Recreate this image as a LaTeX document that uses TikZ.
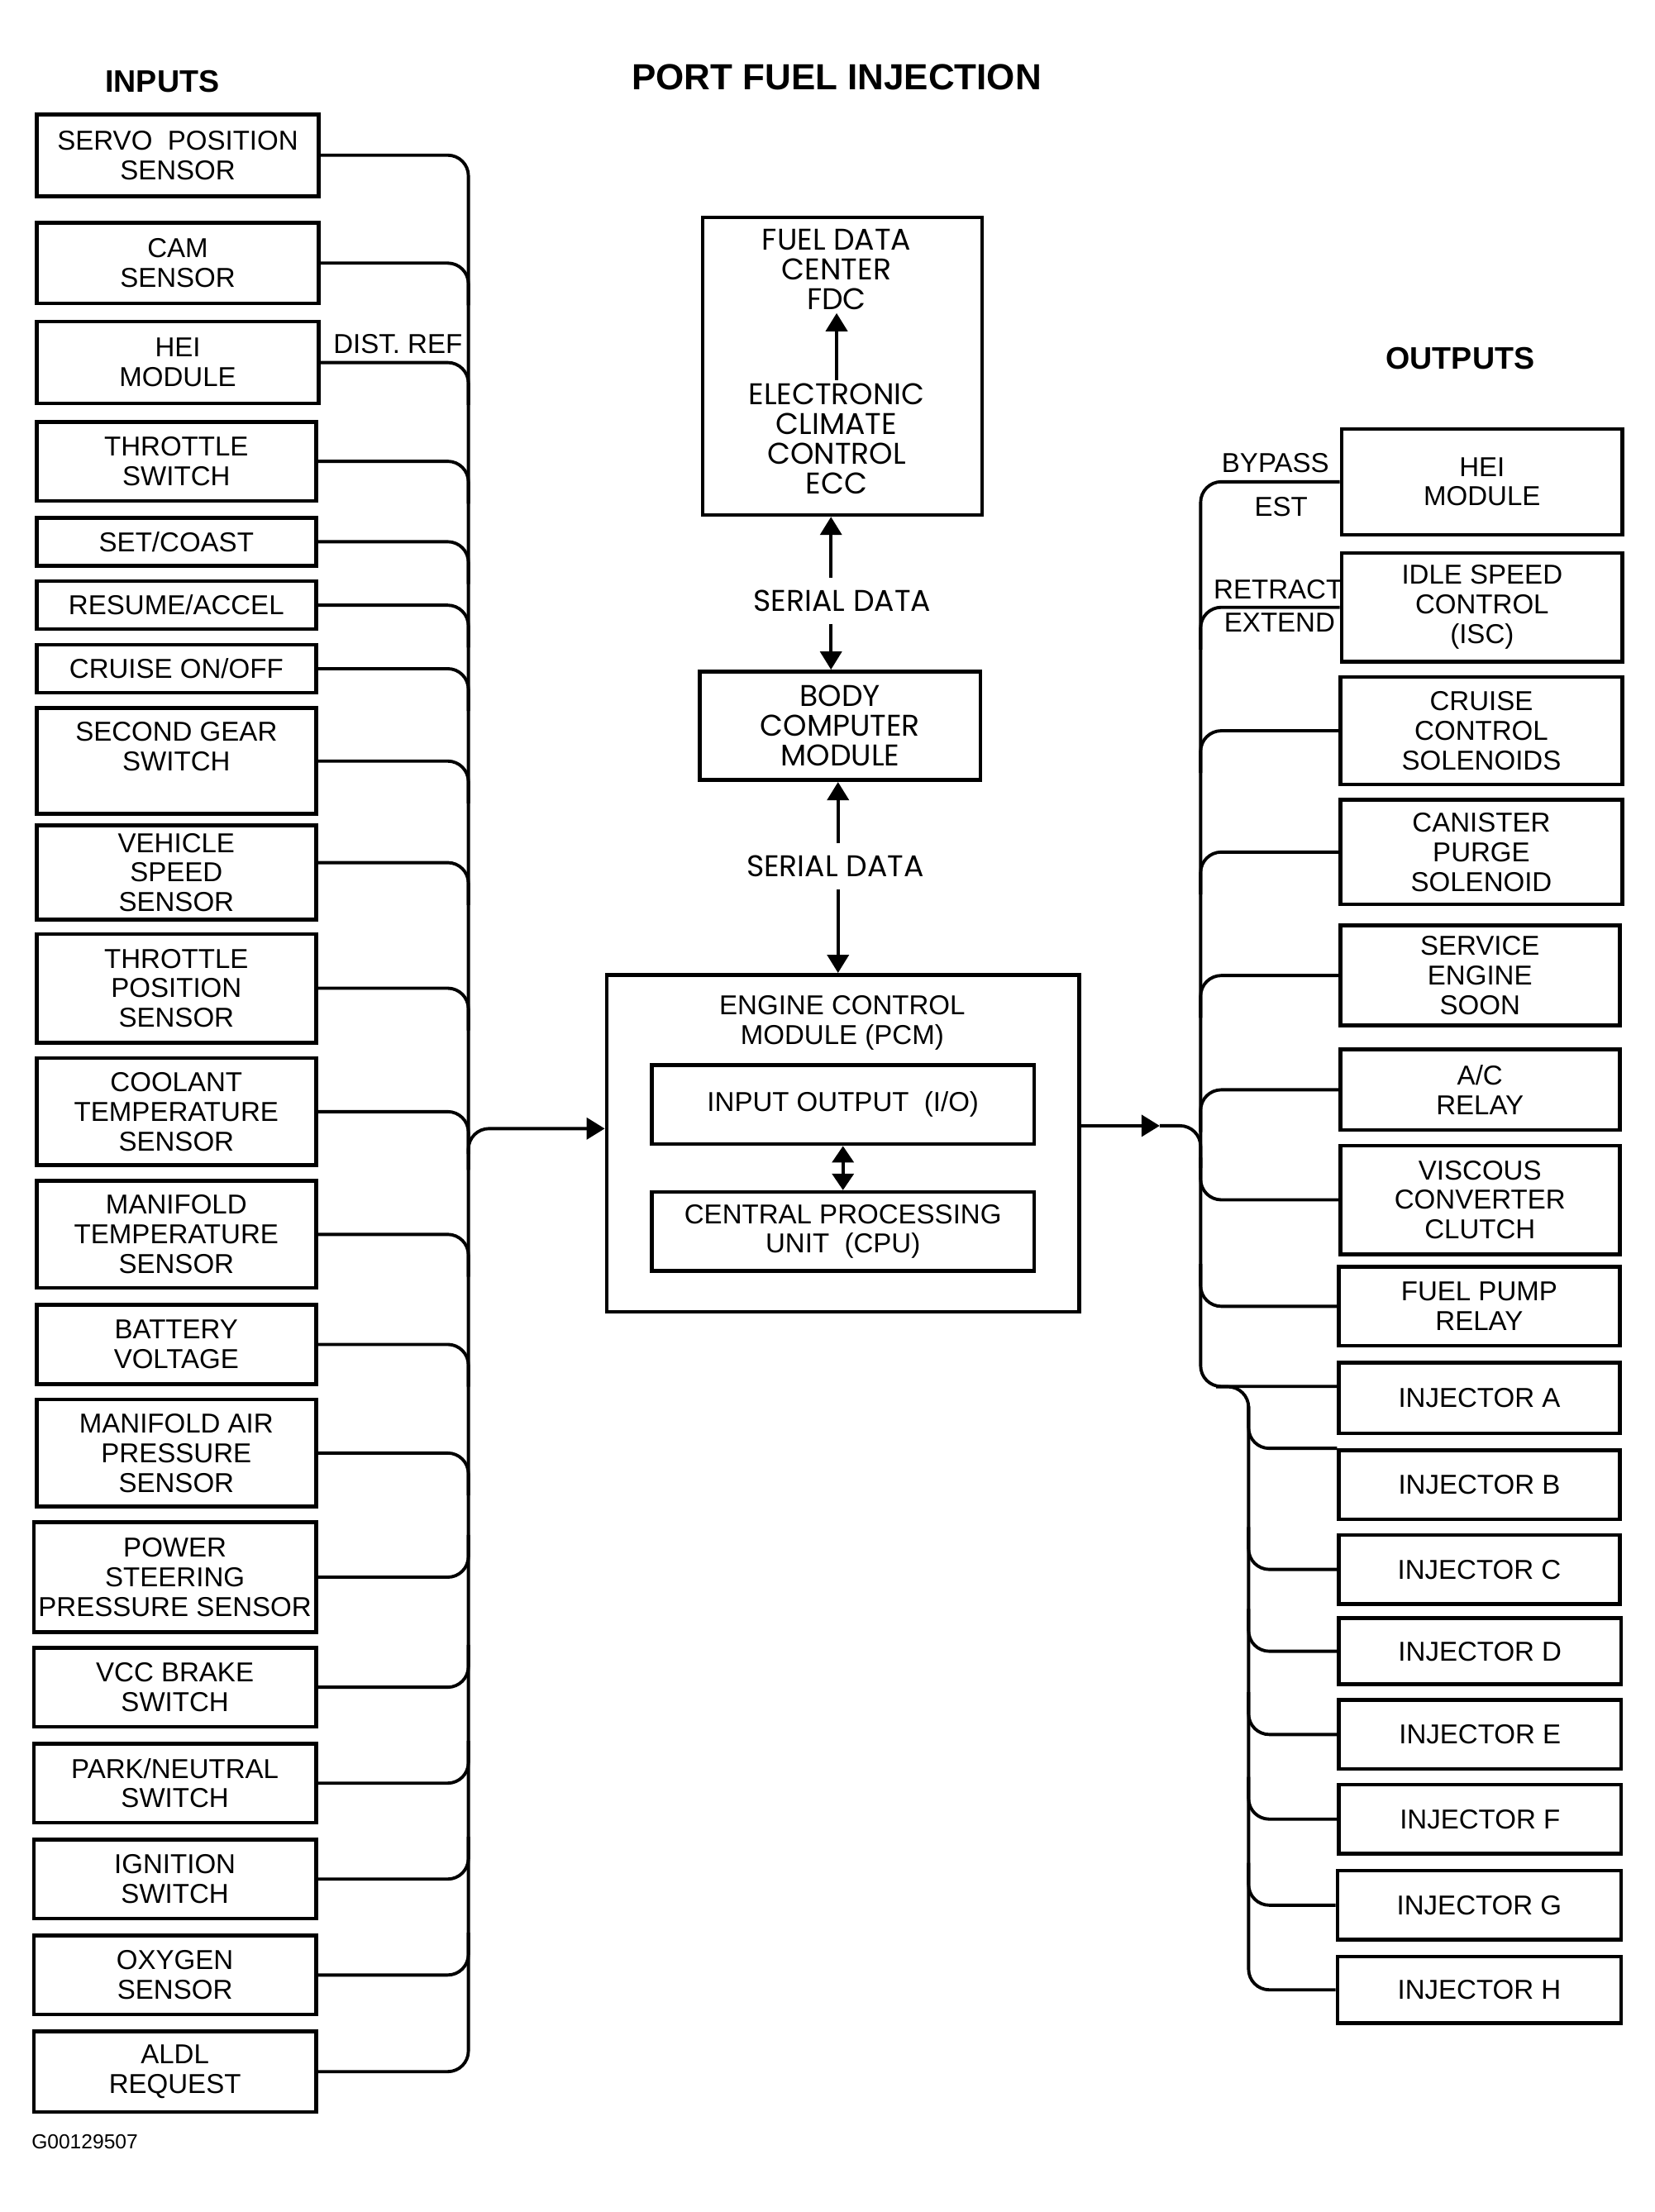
\documentclass[tikz,border=0pt]{standalone}
\usepackage{fontspec}
\setmainfont{Liberation Sans}
\newfontfamily\geofont{Poppins}
\usetikzlibrary{arrows.meta,fit}

\tikzset{
  box/.style={draw, line width=1.3pt, inner sep=0pt},
  txt/.style={inner sep=1pt, align=center, font=\fontsize{9.4}{10.2}\selectfont},
  geo/.style={inner sep=1pt, align=center, font=\geofont\fontsize{10.3}{10.2}\selectfont},
  wire/.style={line width=1.1pt, rounded corners=2.5mm},
  tip/.style={-{Triangle[length=2.2mm,width=2.6mm]}},
}

\begin{document}
\begin{tikzpicture}[x=0.17067mm,y=-0.17067mm]
\useasboundingbox (0,0) rectangle (1173,1568);

\node[font=\bfseries\fontsize{12.5}{14}\selectfont] (title) at (593,55) {PORT FUEL INJECTION};
\node[font=\bfseries\fontsize{10.7}{12}\selectfont] (inputs) at (115,58) {INPUTS};
\node[font=\bfseries\fontsize{10.7}{12}\selectfont] (outputs) at (1035,254) {OUTPUTS};
\node[font=\fontsize{7}{8}\selectfont, anchor=west, inner sep=0pt] (figno) at (22,1518) {G00129507};

% inputs
\node[box, fit={(26,81) (226,139)}, label={[txt]center:{SERVO\ \ POSITION\\SENSOR}}] (servo) {};
\node[box, fit={(26,158) (226,215)}, label={[txt]center:{CAM\\SENSOR}}] (cam) {};
\node[box, fit={(26,228) (226,286)}, label={[txt]center:{HEI\\MODULE}}] (heiin) {};
\node[box, fit={(26,299) (224,355)}, label={[txt]center:{THROTTLE\\SWITCH}}] (thsw) {};
\node[box, fit={(26,367) (224,401)}, label={[txt]center:{SET/COAST}}] (setc) {};
\node[box, fit={(26,412) (224,446)}, label={[txt]center:{RESUME/ACCEL}}] (resume) {};
\node[box, fit={(26,457) (224,491)}, label={[txt]center:{CRUISE ON/OFF}}] (cruise) {};
\node[box, fit={(26,502) (224,577)}, label={[txt]center:{SECOND GEAR\\SWITCH\\~}}] (second) {};
\node[box, fit={(26,585) (224,652)}, label={[txt]center:{VEHICLE\\SPEED\\SENSOR}}] (vss) {};
\node[box, fit={(26,662) (224,739)}, label={[txt]center:{THROTTLE\\POSITION\\SENSOR}}] (tps) {};
\node[box, fit={(26,750) (224,826)}, label={[txt]center:{COOLANT\\TEMPERATURE\\SENSOR}}] (cts) {};
\node[box, fit={(26,837) (224,913)}, label={[txt]center:{MANIFOLD\\TEMPERATURE\\SENSOR}}] (mat) {};
\node[box, fit={(26,925) (224,981)}, label={[txt]center:{BATTERY\\VOLTAGE}}] (batt) {};
\node[box, fit={(26,992) (224,1068)}, label={[txt]center:{MANIFOLD AIR\\PRESSURE\\SENSOR}}] (map) {};
\node[box, fit={(24,1079) (224,1157)}, label={[txt]center:{POWER\\STEERING\\PRESSURE SENSOR}}] (pss) {};
\node[box, fit={(24,1168) (224,1224)}, label={[txt]center:{VCC BRAKE\\SWITCH}}] (vccsw) {};
\node[box, fit={(24,1236) (224,1292)}, label={[txt]center:{PARK/NEUTRAL\\SWITCH}}] (pnsw) {};
\node[box, fit={(24,1304) (224,1360)}, label={[txt]center:{IGNITION\\SWITCH}}] (ign) {};
\node[box, fit={(24,1372) (224,1428)}, label={[txt]center:{OXYGEN\\SENSOR}}] (oxy) {};
\node[box, fit={(24,1440) (224,1497)}, label={[txt]center:{ALDL\\REQUEST}}] (aldl) {};
\node[txt] (distref) at (282,244) {DIST. REF};

% input bus
\coordinate (lbus) at (332,800);
\draw[wire] (servo.east) -- (servo.east -| lbus) -- (aldl.east -| lbus) -- (aldl.east);
\draw[wire] (cam.east) -- (cam.east -| lbus) -- ++(0,30);
\draw[wire] (heiin.east) -- (heiin.east -| lbus) -- ++(0,30);
\draw[wire] (thsw.east) -- (thsw.east -| lbus) -- ++(0,30);
\draw[wire] (setc.east) -- (setc.east -| lbus) -- ++(0,30);
\draw[wire] (resume.east) -- (resume.east -| lbus) -- ++(0,30);
\draw[wire] (cruise.east) -- (cruise.east -| lbus) -- ++(0,30);
\draw[wire] (second.east) -- (second.east -| lbus) -- ++(0,30);
\coordinate (vssout) at ([yshift=1.2mm]vss.east);
\draw[wire] (vssout) -- (vssout -| lbus) -- ++(0,30);
\draw[wire] (tps.east) -- (tps.east -| lbus) -- ++(0,30);
\draw[wire] (cts.east) -- (cts.east -| lbus) -- ++(0,30);
\draw[wire] (mat.east) -- (mat.east -| lbus) -- ++(0,30);
\draw[wire] (batt.east) -- (batt.east -| lbus) -- ++(0,30);
\draw[wire] (map.east) -- (map.east -| lbus) -- ++(0,30);
\draw[wire] (pss.east) -- (pss.east -| lbus) -- ++(0,-30);
\draw[wire] (vccsw.east) -- (vccsw.east -| lbus) -- ++(0,-30);
\draw[wire] (pnsw.east) -- (pnsw.east -| lbus) -- ++(0,-30);
\draw[wire] (ign.east) -- (ign.east -| lbus) -- ++(0,-30);
\draw[wire] (oxy.east) -- (oxy.east -| lbus) -- ++(0,-30);

% body computer and climate control
\node[box, fit={(498,154) (696,365)}] (eccbox) {};
\node[geo] (fdc) at (593,191) {FUEL DATA\\CENTER\\FDC};
\node[geo] (ecc) at (593,311) {ELECTRONIC\\CLIMATE\\CONTROL\\ECC};
\draw[line width=1.1pt, tip] (ecc.north) -- (fdc.south);
\node[box, fit={(496,476) (695,553)}, label={[geo]center:{BODY\\COMPUTER\\MODULE}}] (bcm) {};
\node[geo, inner ysep=4pt] (sd1) at (597,426) {SERIAL DATA};
\coordinate (sdx1) at (589,426);
\draw[line width=1.1pt, tip] (sd1.north -| sdx1) -- (eccbox.south -| sdx1);
\draw[line width=1.1pt, tip] (sd1.south -| sdx1) -- (bcm.north -| sdx1);
\node[geo, inner ysep=4pt] (sd2) at (592,614) {SERIAL DATA};
\coordinate (sdx2) at (594,614);

% engine control module
\node[box, fit={(430,691) (765,930)}] (ecm) {};
\node[txt] (ecmtitle) at (597,725) {ENGINE CONTROL\\MODULE (PCM)};
\node[box, fit={(462,755) (733,811)}, label={[txt]center:{INPUT OUTPUT\ \ (I/O)}}] (io) {};
\node[box, fit={(462,845) (733,901)}, label={[txt]center:{CENTRAL PROCESSING\\UNIT\ \ (CPU)}}] (cpu) {};
\draw[line width=1.1pt, {Triangle[length=2mm,width=2.6mm]}-{Triangle[length=2mm,width=2.6mm]}] (io.south) -- (cpu.north);
\draw[line width=1.1pt, tip] (sd2.north -| sdx2) -- (bcm.south -| sdx2);
\draw[line width=1.1pt, tip] (sd2.south -| sdx2) -- (ecm.north -| sdx2);
\draw[wire, tip] ([yshift=-5mm]lbus) -- (lbus) -- (lbus -| ecm.west);

% outputs
\node[box, fit={(951,304) (1150,379)}, label={[txt]center:{HEI\\MODULE}}] (heiout) {};
\node[box, fit={(951,392) (1150,469)}, label={[txt]center:{IDLE SPEED\\CONTROL\\(ISC)}}] (isc) {};
\node[box, fit={(950,480) (1150,556)}, label={[txt]center:{CRUISE\\CONTROL\\SOLENOIDS}}] (ccs) {};
\node[box, fit={(950,567) (1150,641)}, label={[txt]center:{CANISTER\\PURGE\\SOLENOID}}] (cps) {};
\node[box, fit={(950,656) (1148,727)}, label={[txt]center:{SERVICE\\ENGINE\\SOON}}] (ses) {};
\node[box, fit={(950,744) (1148,801)}, label={[txt]center:{A/C\\RELAY}}] (acr) {};
\node[box, fit={(950,812) (1148,889)}, label={[txt]center:{VISCOUS\\CONVERTER\\CLUTCH}}] (vcc) {};
\node[box, fit={(949,898) (1148,954)}, label={[txt]center:{FUEL PUMP\\RELAY}}] (fpr) {};
\node[box, fit={(949,966) (1148,1016)}, label={[txt]center:{INJECTOR A}}] (inja) {};
\node[box, fit={(949,1028) (1148,1077)}, label={[txt]center:{INJECTOR B}}] (injb) {};
\node[box, fit={(949,1088) (1148,1137)}, label={[txt]center:{INJECTOR C}}] (injc) {};
\node[box, fit={(949,1147) (1149,1194)}, label={[txt]center:{INJECTOR D}}] (injd) {};
\node[box, fit={(949,1205) (1149,1254)}, label={[txt]center:{INJECTOR E}}] (inje) {};
\node[box, fit={(949,1265) (1149,1314)}, label={[txt]center:{INJECTOR F}}] (injf) {};
\node[box, fit={(948,1326) (1149,1375)}, label={[txt]center:{INJECTOR G}}] (injg) {};
\node[box, fit={(948,1387) (1149,1434)}, label={[txt]center:{INJECTOR H}}] (injh) {};
\node[txt] (bypass) at (904,328) {BYPASS};
\node[txt] (est) at (908,359) {EST};
\node[txt] (retract) at (906,418) {RETRACT};
\node[txt] (extend) at (907,441) {EXTEND};

% output bus
\coordinate (rbus) at (851,700);
\coordinate (rtip) at (822,798);
\draw[wire, tip] (ecm.east |- rtip) -- (rtip);
\draw[wire] (rtip) -- (rtip -| rbus) -- ++(0,30);
\coordinate (injaw) at ([yshift=1.4mm]inja.west);
\draw[wire] (heiout.west) -- (heiout.west -| rbus) -- (injaw -| rbus) -- (injaw);
\draw[wire] (isc.west) -- (isc.west -| rbus) -- ++(0,30);
\draw[wire] (ccs.west) -- (ccs.west -| rbus) -- ++(0,30);
\draw[wire] (cps.west) -- (cps.west -| rbus) -- ++(0,30);
\draw[wire] (ses.west) -- (ses.west -| rbus) -- ++(0,30);
\draw[wire] (acr.west) -- (acr.west -| rbus) -- ++(0,30);
\draw[wire] (vcc.west) -- (vcc.west -| rbus) -- ++(0,-30);
\draw[wire] (fpr.west) -- (fpr.west -| rbus) -- ++(0,-30);

% injector bus
\coordinate (ibus) at (885,1200);
\coordinate (itap) at (862,983);
\draw[wire] (itap) -- (itap -| ibus) -- (injh.west -| ibus) -- (injh.west);
\draw[wire] (injb.north west) -- (injb.north west -| ibus) -- ++(0,-30);
\draw[wire] (injc.west) -- (injc.west -| ibus) -- ++(0,-30);
\draw[wire] (injd.west) -- (injd.west -| ibus) -- ++(0,-30);
\draw[wire] (inje.west) -- (inje.west -| ibus) -- ++(0,-30);
\draw[wire] (injf.west) -- (injf.west -| ibus) -- ++(0,-30);
\draw[wire] (injg.west) -- (injg.west -| ibus) -- ++(0,-30);
\end{tikzpicture}
\end{document}
